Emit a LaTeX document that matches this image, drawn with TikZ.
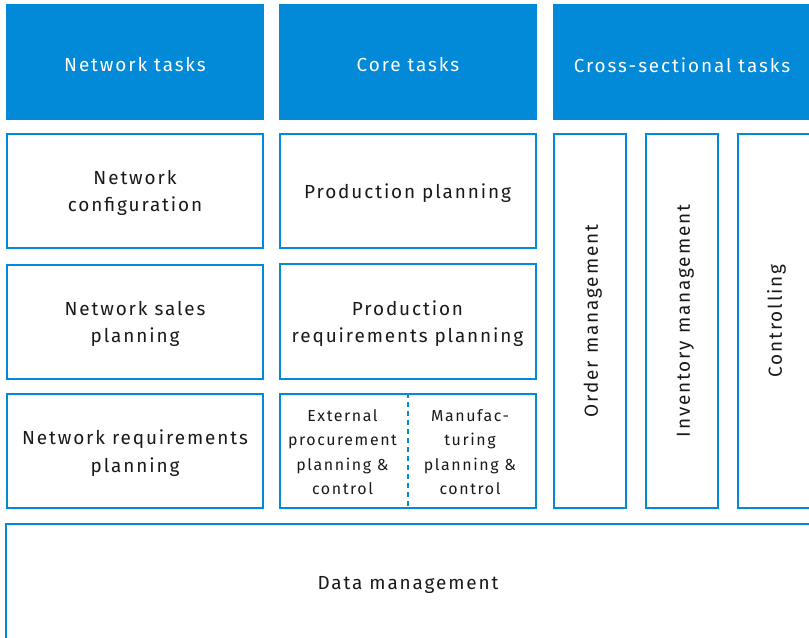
\documentclass[tikz,border=0pt]{standalone}
\usepackage{fontspec}
\setmainfont{Fira Sans}[LetterSpace=10]
\definecolor{tblue}{RGB}{2,137,215}

\begin{document}
\begin{tikzpicture}[x=1bp, y=-1bp,
    head/.style={fill=tblue, text=white, minimum width=258bp, minimum height=116bp, inner sep=0, text height=20bp, font=\fontsize{19}{27}\selectfont},
    box/.style={draw=tblue, line width=2bp, minimum width=256bp, minimum height=114bp, inner sep=0, align=center, text=black!90, font=\fontsize{19}{27.5}\selectfont},
    oneline/.style={box, text height=20bp},
    twoline/.style={box, text depth=-4bp},
    col/.style={oneline, rotate=90, minimum width=374bp, minimum height=72bp},
    small/.style={align=center, text=black!90, font=\fontsize{16}{24.5}\selectfont}]
    \useasboundingbox (0,0) rectangle (809,638);
    \clip (0,0) rectangle (809,638);

    \node[head] (hnet) at (135, 62) {Network tasks};
    \node[head] (hcore) at (408, 62) {Core tasks};
    \node[head] (hcross) at (682, 62.5) {Cross-sectional tasks};

    \node[twoline] (netconf) at (135, 191) {Network\\configuration};
    \node[twoline] (netsales) at (135, 322) {Network sales\\planning};
    \node[twoline] (netreq) at (135, 451) {Network requirements\\planning};

    \node[oneline] (prodplan) at (407.5, 191) {Production planning};
    \node[twoline] (prodreq) at (407.5, 321.5) {Production\\requirements planning};
    \node[box] (split) at (407.5, 451) {};
    \draw[draw=tblue, line width=2bp, dash pattern=on 5bp off 4bp] (split.north) -- (split.south);
    \node[small] (extproc) at (342.5, 452) {External\\procurement\\planning \&\\control};
    \node[small] (manuf) at (470, 452) {Manufac-\\turing\\planning \&\\control};

    \node[col] (order) at (590, 321) {Order management};
    \node[col] (invent) at (682, 321) {Inventory management};
    \node[col] (control) at (774, 321) {Controlling};

    \node[oneline, minimum width=804bp, minimum height=115bp] (data) at (408, 581.5) {Data management};
\end{tikzpicture}
\end{document}
